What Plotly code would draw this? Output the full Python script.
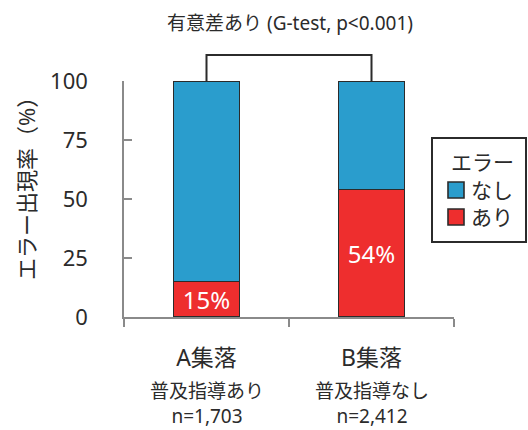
import plotly.graph_objects as go

# Data
groups = ["A集落", "B集落"]
group_notes = ["普及指導あり", "普及指導なし"]
group_n = ["n=1,703", "n=2,412"]
error_pct = [15, 54]          # エラーあり (%)
no_error_pct = [85, 46]       # エラーなし (%)
series_names = ["なし", "あり"]
legend_title = "エラー"
y_ticks = [0, 25, 50, 75, 100]
title_text = "有意差あり (G-test, p<0.001)"
y_title = "エラー出現率（%）"

BLUE = "#2a9dcd"
RED = "#ee2e2e"
INK = "#2b2b2b"
AXIS = "#8a8a8a"
FONT = "Noto Sans, Noto Sans CJK JP, sans-serif"

W, H = 528, 430
L, R, T, B = 124, 74, 81, 113
PW, PH = W - L - R, H - T - B


def px(x):
    return (x - L) / PW


def py(y):
    return (H - B - y) / PH


fig = go.Figure()
fig.add_bar(
    x=groups, y=error_pct, name=series_names[1],
    marker=dict(color=RED, line=dict(color=INK, width=1.6)),
    text=[f"{v}%" for v in error_pct], textposition="inside",
    insidetextanchor="middle", constraintext="none",
    textfont=dict(color="white", size=24, family=FONT),
    width=0.4, hoverinfo="skip",
)
fig.add_bar(
    x=groups, y=no_error_pct, name=series_names[0],
    marker=dict(color=BLUE, line=dict(color=INK, width=1.6)),
    width=0.4, hoverinfo="skip",
)

fig.update_layout(
    width=W, height=H, barmode="stack", showlegend=False,
    margin=dict(l=L, r=R, t=T, b=B),
    plot_bgcolor="white", paper_bgcolor="white",
    font=dict(family=FONT, color=INK),
)
fig.update_xaxes(
    type="category", tickson="boundaries", ticks="outside", ticklen=8,
    tickcolor=AXIS, tickwidth=1.5, showline=True, linecolor=AXIS, linewidth=1.5,
    showgrid=False, tickfont=dict(size=23, color=INK), ticklabelstandoff=20,
)
fig.update_yaxes(
    range=[0, 100], tickvals=y_ticks, ticks="inside", ticklen=8,
    tickcolor=AXIS, tickwidth=1.5, showline=True, linecolor=AXIS, linewidth=1.5,
    showgrid=False, zeroline=False, tickfont=dict(size=22, color=INK),
    ticklabelstandoff=30,
)

# Two-line sub-label under each group
for g, note, n in zip(groups, group_notes, group_n):
    fig.add_annotation(x=g, xref="x", y=py(403), yref="paper",
                       text=f"{note}<br>{n}", showarrow=False, borderpad=0,
                       font=dict(size=19), align="center",
                       xanchor="center", yanchor="middle")

# Significance bracket
fig.add_shape(type="path", xref="x", yref="paper",
              path=f"M 0,1 L 0,{py(55)} L 1,{py(55)} L 1,1",
              line=dict(color=INK, width=2))
fig.add_annotation(x=px(290), y=py(23), xref="paper", yref="paper",
                   text=title_text, showarrow=False, font=dict(size=19),
                   xanchor="center", yanchor="middle")

# Y-axis title
fig.add_annotation(x=px(26), y=py(183), xref="paper", yref="paper",
                   text=y_title, textangle=-90, showarrow=False,
                   font=dict(size=22), xanchor="center", yanchor="middle")

# Legend box
fig.add_shape(type="rect", xref="paper", yref="paper",
              x0=px(432), x1=px(526), y0=py(242), y1=py(138),
              line=dict(color=INK, width=2), fillcolor="white")
fig.add_annotation(x=px(449), y=py(162), xref="paper", yref="paper",
                   text=legend_title, showarrow=False, xanchor="left",
                   yanchor="middle", font=dict(size=21))
for name, color, cy in [(series_names[0], BLUE, 190), (series_names[1], RED, 217)]:
    fig.add_shape(type="rect", xref="paper", yref="paper",
                  x0=px(448), x1=px(464), y0=py(cy + 8), y1=py(cy - 8),
                  line=dict(color=INK, width=1.6), fillcolor=color)
    fig.add_annotation(x=px(469), y=py(cy), xref="paper", yref="paper",
                       text=name, showarrow=False, xanchor="left",
                       yanchor="middle", font=dict(size=21))

fig.write_html("out.html")
